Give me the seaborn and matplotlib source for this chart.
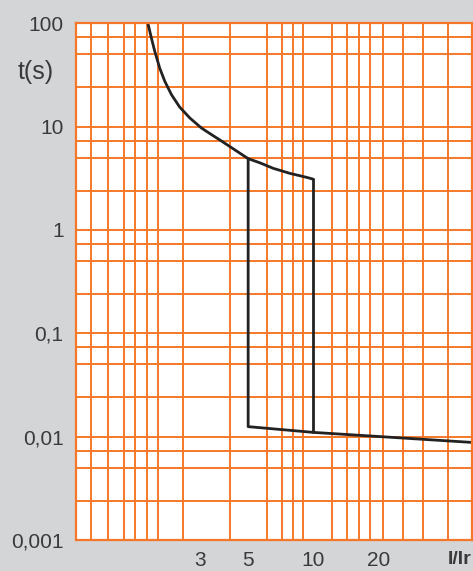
import numpy as np
import pandas as pd
import matplotlib
matplotlib.use("Agg")
import matplotlib.pyplot as plt
from matplotlib.ticker import FixedLocator, NullFormatter, FixedFormatter
import seaborn as sns

# ---- data ----
curve_I = [1.72, 1.785, 1.85, 1.95, 2.06, 2.21, 2.41, 2.69, 3.04, 3.39, 3.70,
           4.58, 5.0, 5.66, 6.53, 7.8, 9.32, 10.0]
curve_t = [100, 72, 53.6, 36.9, 27.4, 20.4, 15.5, 12.1, 9.7, 8.35, 7.43,
           5.53, 4.9, 4.47, 3.95, 3.53, 3.23, 3.1]

inst5_I = [5, 5, 10, 54]
inst5_t = [4.9, 0.0125, 0.011, 0.0088]

inst10_I = [10, 10]
inst10_t = [3.1, 0.011]

x_tick_vals = [3, 5, 10, 20]
x_tick_labels = ["3", "5", "10", "20"]
y_tick_vals = [0.001, 0.01, 0.1, 1, 10, 100]
y_tick_labels = ["0,001", "0,01", "0,1", "1", "10", "100"]

grid_x = [0.94, 1.12, 1.33, 1.5, 1.7, 1.92, 2.5, 3.0, 4.1, 5, 6.1, 7.2, 8.1,
          9.0, 10, 12.2, 14.3, 16.3, 18.2, 21, 26, 32, 42]
grid_y_mult = [2.4, 5, 7.3]

# ---- styling ----
BG = "#d4d5d7"
ORANGE = "#f5782a"
TXT = "#3a3a3a"

sns.set_style("white")
plt.rcParams["font.family"] = ["Liberation Sans", "DejaVu Sans"]

fig = plt.figure(figsize=(4.73, 5.71), dpi=100, facecolor=BG)
ax = fig.add_axes([76 / 473, 31 / 571, (471.7 - 76) / 473, (540 - 23.3) / 571])
ax.set_facecolor("white")
ax.set_xscale("log")
ax.set_yscale("log")
ax.set_xlim(0.8, 54)
ax.set_ylim(0.001, 100)

df = pd.concat([
    pd.DataFrame({"I": curve_I, "t": curve_t, "seg": "curve"}),
    pd.DataFrame({"I": inst5_I, "t": inst5_t, "seg": "inst5"}),
    pd.DataFrame({"I": inst10_I, "t": inst10_t, "seg": "inst10"}),
])

# grid
ax.xaxis.set_major_locator(FixedLocator(x_tick_vals))
ax.xaxis.set_major_formatter(FixedFormatter(x_tick_labels))
ax.xaxis.set_minor_locator(FixedLocator(grid_x))
ax.xaxis.set_minor_formatter(NullFormatter())
ax.yaxis.set_major_locator(FixedLocator(y_tick_vals))
ax.yaxis.set_major_formatter(FixedFormatter(y_tick_labels))
ygrid = [d * m for d in [0.001, 0.01, 0.1, 1, 10] for m in grid_y_mult]
ax.yaxis.set_minor_locator(FixedLocator(ygrid))
ax.yaxis.set_minor_formatter(NullFormatter())

ax.grid(False)
ax.grid(True, which="minor", axis="x", color=ORANGE, lw=1.4)
ax.grid(True, which="both", axis="y", color=ORANGE, lw=1.4)
ax.set_axisbelow(True)

for s in ax.spines.values():
    s.set_color(ORANGE)
    s.set_linewidth(1.6)

sns.lineplot(data=df, x="I", y="t", units="seg", estimator=None, sort=False,
             color="#222222", lw=2.0, ax=ax, legend=False)

ax.set_xlabel("")
ax.set_ylabel("")
ax.tick_params(which="both", length=0)
ax.tick_params(axis="y", pad=9, labelsize=15, labelcolor=TXT)
ax.tick_params(axis="x", pad=8, labelsize=15, labelcolor=TXT)

fig.text(36 / 473, 1 - 72 / 571, "t(s)", fontsize=18, color=TXT,
         ha="center", va="center")
fig.text(460 / 473, 1 - 559 / 571, "I/Ir", fontsize=14, color=TXT,
         fontweight="bold", ha="center", va="center")

fig.savefig("out.png", dpi=100, facecolor=BG)
